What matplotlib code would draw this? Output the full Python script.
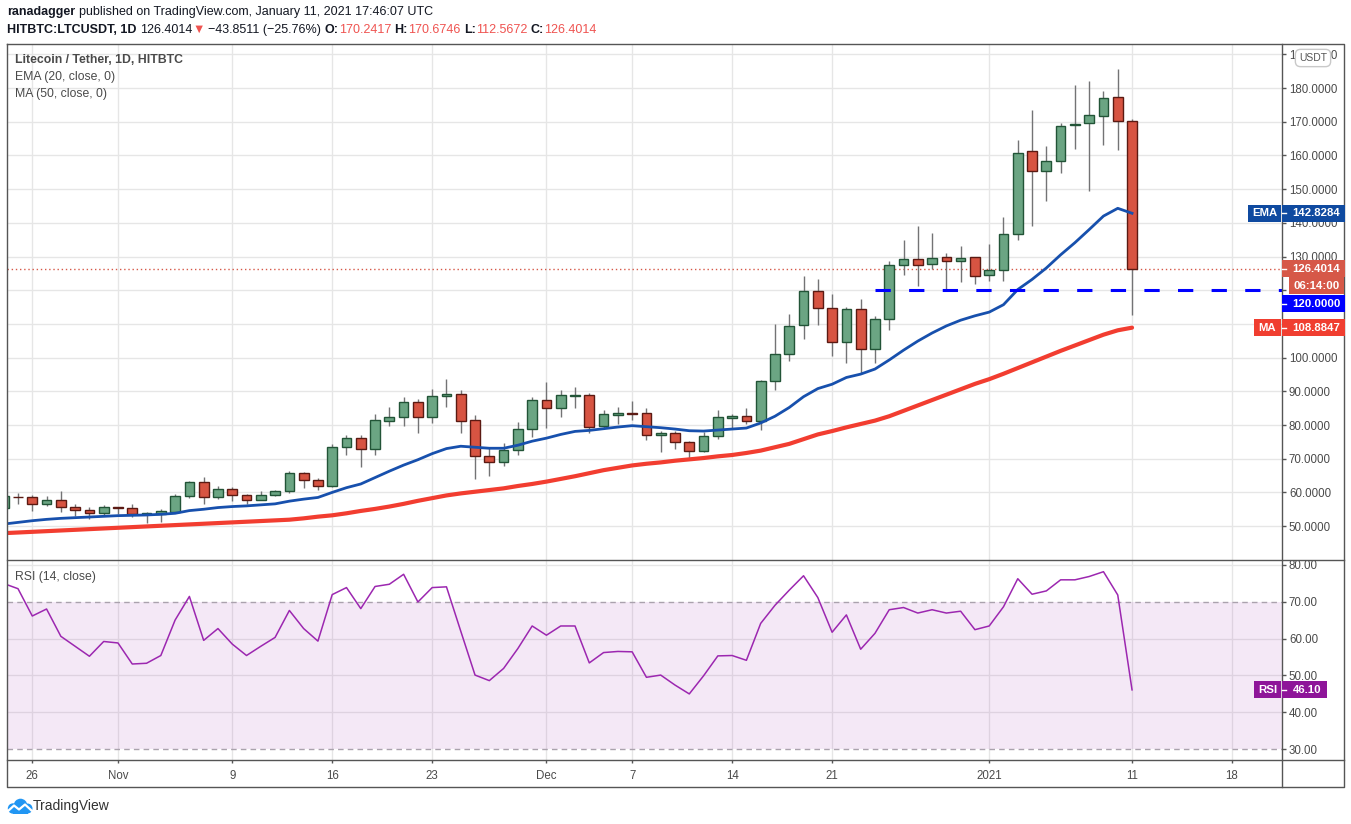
import numpy as np
import pandas as pd
import matplotlib
matplotlib.use("Agg")
import matplotlib.pyplot as plt
from matplotlib.lines import Line2D
from matplotlib.patches import Rectangle, Circle

plt.rcParams['font.family'] = ['Liberation Sans', 'DejaVu Sans']

# daily LTC/USDT candles, 2020-10-24 .. 2021-01-11
start_date = '2020-10-24'
end_date = '2021-01-11'

opens = [55.3, 58.7, 58.5, 56.5, 57.6, 55.6, 54.7, 53.8,
         55.7, 55.3, 53.5, 53.7, 54.3, 58.8, 63.0, 58.5, 60.9, 59.1, 57.6, 59.1, 60.3, 65.7, 63.6,
         62.0, 73.6, 76.1, 73.0, 81.3, 82.3, 86.7, 82.5, 88.5, 89.1, 81.4, 70.7, 68.9, 72.5, 78.7,
         87.3, 85.0, 88.6, 89.0, 79.6, 83.1, 83.6, 83.5, 77.0, 77.6, 74.9, 72.2, 76.7, 82.2, 82.6,
         81.3, 93.0, 101.0, 109.6, 119.7, 114.7, 104.6, 114.4, 102.5, 111.4, 127.5, 129.3, 127.8,
         129.9, 128.7, 129.9,
         124.5, 126.0, 136.7, 161.4, 155.4, 158.4, 168.9, 169.7, 171.8, 177.4, 170.2417]
highs = [59.5, 59.7, 59.1, 58.9, 60.4, 56.6, 55.7, 56.2,
         55.8, 56.6, 54.2, 55.1, 59.5, 63.4, 64.6, 61.9, 61.6, 59.5, 60.4, 60.7, 66.4, 66.1, 64.3,
         74.4, 77.0, 77.0, 83.3, 85.3, 88.4, 87.7, 90.7, 93.6, 90.4, 83.0, 73.3, 74.6, 80.9, 88.3,
         92.8, 90.4, 91.3, 89.5, 84.5, 85.4, 87.2, 85.1, 78.3, 78.1, 75.2, 78.0, 84.5, 83.2, 85.0,
         93.4, 110.0, 113.0, 124.3, 123.3, 118.9, 115.0, 117.4, 112.4, 128.8, 135.0, 139.2, 137.1,
         130.9, 133.0, 130.0,
         133.8, 141.6, 164.7, 173.4, 162.7, 169.5, 180.8, 182.0, 179.0, 185.5, 170.6746]
lows = [55.0, 56.5, 54.6, 56.1, 54.3, 53.1, 52.0, 53.2,
        53.5, 52.8, 51.0, 51.3, 54.2, 58.4, 56.7, 58.1, 57.3, 56.7, 57.6, 58.8, 59.9, 61.4, 60.7,
        61.7, 71.1, 67.6, 71.1, 79.8, 79.8, 77.7, 80.7, 85.4, 77.7, 64.1, 65.0, 67.8, 71.2, 76.3,
        79.2, 82.3, 85.1, 77.5, 78.7, 80.3, 81.5, 75.6, 72.1, 72.9, 69.7, 72.0, 75.7, 79.2, 80.4,
        78.4, 90.4, 99.1, 105.4, 109.8, 100.6, 98.5, 95.3, 98.5, 108.3, 124.6, 121.2, 126.2,
        120.2, 122.4, 121.9,
        122.8, 122.7, 135.0, 139.0, 146.4, 154.7, 161.9, 149.4, 163.1, 161.6, 112.5672]
closes = [58.9, 58.5, 56.5, 57.6, 55.6, 54.7, 53.8, 55.6,
          55.3, 53.5, 53.8, 54.4, 58.8, 63.0, 58.5, 60.9, 59.1, 57.6, 59.1, 60.3, 65.7, 63.6, 62.0,
          73.4, 76.1, 73.0, 81.4, 82.3, 86.7, 82.5, 88.5, 89.1, 81.3, 70.7, 68.9, 72.5, 78.7, 87.3,
          85.0, 88.8, 89.0, 79.4, 83.2, 83.6, 83.3, 77.0, 77.6, 74.9, 72.2, 76.7, 82.3, 82.7, 81.3,
          93.0, 101.0, 109.3, 119.7, 114.7, 104.6, 114.4, 102.5, 111.4, 127.6, 129.3, 127.5, 129.6,
          128.7, 129.6, 124.2,
          126.0, 136.7, 160.8, 155.4, 158.4, 168.8, 169.2, 172.1, 177.1, 170.3, 126.4014]

ema20 = [50.6, 51.1, 51.6, 52.0, 52.3, 52.5, 52.7, 52.9,
         53.1, 53.2, 53.3, 53.5, 53.8, 54.6, 55.0, 55.5, 55.8, 56.0, 56.3, 56.6, 57.4, 58.0, 58.5,
         60.0, 61.4, 62.5, 64.4, 66.3, 68.1, 69.7, 71.5, 73.0, 73.7, 73.4, 73.1, 73.1, 74.0, 75.2,
         76.1, 77.2, 78.1, 78.4, 78.9, 79.4, 79.8, 79.5, 79.2, 78.8, 78.3, 78.2, 78.5, 78.8, 79.1,
         80.6, 82.6, 85.2, 88.4, 90.8, 92.1, 94.1, 95.1, 96.6, 99.3, 102.2, 104.9, 107.3, 109.4,
         111.1, 112.4,
         113.5, 115.7, 120.2, 123.2, 126.6, 130.5, 134.1, 138.0, 142.0, 144.3, 142.8284]
ma50 = [47.9, 48.1, 48.3, 48.5, 48.7, 48.9, 49.1, 49.3,
        49.5, 49.7, 49.9, 50.1, 50.3, 50.5, 50.7, 50.9, 51.1, 51.3, 51.5, 51.7, 51.9, 52.3, 52.8,
        53.2, 53.8, 54.5, 55.1, 55.8, 56.6, 57.5, 58.3, 59.1, 59.7, 60.2, 60.7, 61.2, 61.9, 62.5,
        63.2, 64.0, 64.8, 65.7, 66.6, 67.3, 68.0, 68.5, 68.9, 69.4, 69.8, 70.2, 70.7, 71.1, 71.7,
        72.4, 73.4, 74.4, 75.8, 77.2, 78.2, 79.3, 80.3, 81.3, 82.6, 84.2, 85.8, 87.4, 89.0,
        90.6, 92.2,
        93.6, 95.2, 96.9, 98.6, 100.3, 102.0, 103.6, 105.2, 106.8, 108.1, 108.8847]
rsi14 = [74.9, 73.5, 66.1, 68.0, 60.6, 57.9, 55.2, 59.2,
         58.8, 53.1, 53.3, 55.4, 65.0, 71.4, 59.5, 62.7, 58.5, 55.4, 57.9, 60.3, 67.6, 62.7, 59.3,
         71.9, 73.8, 68.1, 74.1, 74.7, 77.4, 69.9, 73.8, 74.0, 62.0, 50.1, 48.6, 51.9, 57.3, 63.4,
         60.9, 63.4, 63.4, 53.4, 56.2, 56.5, 56.4, 49.5, 50.1, 47.4, 45.0, 49.9, 55.3, 55.4, 54.1,
         64.1, 69.0, 73.1, 77.0, 71.1, 61.7, 66.4, 57.1, 61.4, 67.8, 68.4, 66.9, 67.8, 66.9,
         67.4, 62.4,
         63.4, 68.6, 76.2, 72.0, 72.9, 75.9, 75.9, 76.8, 78.1, 71.8, 46.10]

support_level = 120.0
support_from = '2020-12-24'

tick_dates = ['2020-10-26', '2020-11-01', '2020-11-09', '2020-11-16', '2020-11-23', '2020-12-01',
              '2020-12-07', '2020-12-14', '2020-12-21', '2021-01-01', '2021-01-11', '2021-01-18']
tick_labels = ['26', 'Nov', '9', '16', '23', 'Dec', '7', '14', '21', '2021', '11', '18']
price_ticks = list(range(50, 200, 10))
rsi_ticks = [30, 40, 50, 60, 70, 80]

# colours
UP_FILL, UP_EDGE = '#6ba583', '#225437'
DN_FILL, DN_EDGE = '#d75442', '#5b1a13'
WICK = '#737375'
EMA_C, MA_C, RSI_C = '#1750ad', '#f23d30', '#9c27b0'
GRID = '#e6e6e6'
FRAME = '#555555'
TXT = '#4a4a4a'

W, H = 1351, 824
L, R, RR = 7, 1282, 1344
TOP, MID, BOT, AXB = 44, 560, 760, 787

fig = plt.figure(figsize=(W / 100, H / 100), dpi=100)
fig.patch.set_facecolor('white')

ax = fig.add_axes([L / W, 1 - MID / H, (R - L) / W, (MID - TOP) / H])
ax_rsi = fig.add_axes([L / W, 1 - BOT / H, (R - L) / W, (BOT - MID) / H])

dates = pd.date_range(start_date, end_date, freq='D')
x = np.arange(len(dates))
o, h, l, c = map(np.array, (opens, highs, lows, closes))
up = c >= o

tick_pos = (pd.to_datetime(tick_dates) - pd.Timestamp(start_date)).days
sup_pos = (pd.Timestamp(support_from) - pd.Timestamp(start_date)).days

for a in (ax, ax_rsi):
    a.set_xlim(0.23, 89.5)
    for s in a.spines.values():
        s.set_visible(False)
    a.set_xticks(tick_pos)
    a.set_axisbelow(True)

ax.set_ylim(39.94, 193.06)
ax_rsi.set_ylim(27.1, 81.27)


def py(a, val):
    # pixel row (from top) of a data value
    return H - a.transData.transform((0, val))[1]


# positions of the value tags on the price scale
y_ema = py(ax, ema20[-1])
y_close = py(ax, c[-1])
y_timer = y_close + 17
y_sup = max(py(ax, support_level), y_close + 35)
y_ma = py(ax, ma50[-1])
y_rsi = py(ax_rsi, rsi14[-1])
tag_rows = [y_ema, y_close, y_timer, y_sup, y_ma]

# --- price pane
ax.grid(True, color=GRID, lw=1)
ax.vlines(x, l, h, color=WICK, lw=1, zorder=2)
ax.bar(x[up], (c - o)[up], bottom=o[up], width=0.68, color=UP_FILL,
       edgecolor=UP_EDGE, linewidth=1, zorder=3)
ax.bar(x[~up], (c - o)[~up], bottom=o[~up], width=0.68, color=DN_FILL,
       edgecolor=DN_EDGE, linewidth=1, zorder=3)
ax.plot(x, ema20, color=EMA_C, lw=2, zorder=4)
ax.plot(x, ma50, color=MA_C, lw=3, zorder=4, solid_capstyle='round')
ax.axhline(c[-1], color='#d65848', lw=1, ls=(0, (1, 2)), zorder=1.5)
ax.plot([sup_pos, ax.get_xlim()[1]], [support_level, support_level], color='#0000ff',
        lw=2.2, ls=(0, (5, 6)), zorder=5, clip_on=False)

# price labels hidden under the tags are left out, as on the scale
ax.yaxis.tick_right()
ax.set_yticks(price_ticks)
ax.set_yticklabels(['' if any(abs(py(ax, v) - t) < 9 for t in tag_rows) else f'{v:.4f}'
                    for v in price_ticks])
ax.tick_params(axis='y', direction='out', length=3, width=1, color=FRAME,
               labelsize=8.3, labelcolor=TXT, pad=2)
ax.tick_params(axis='x', length=0, labelbottom=False)

# --- RSI pane
ax_rsi.grid(True, axis='x', color=GRID, lw=1)
ax_rsi.hlines([40, 50, 60, 80], 0, 1, transform=ax_rsi.get_yaxis_transform(), color=GRID, lw=1, zorder=0.6)
ax_rsi.axhspan(30, 70, color=RSI_C, alpha=0.1, lw=0, zorder=1)
for lvl in (30, 70):
    ax_rsi.axhline(lvl, color='#aaa2ad', lw=1, ls=(0, (4, 3)), zorder=1.2)
ax_rsi.plot(x, rsi14, color=RSI_C, lw=1.1, zorder=3)

ax_rsi.yaxis.tick_right()
ax_rsi.set_yticks(rsi_ticks)
ax_rsi.set_yticklabels([f'{v:.2f}' for v in rsi_ticks])
ax_rsi.tick_params(axis='y', direction='out', length=3, width=1, color=FRAME,
                   labelsize=8.3, labelcolor=TXT, pad=2)
ax_rsi.set_xticklabels(tick_labels)
ax_rsi.tick_params(axis='x', direction='out', length=2.5, width=1, color=FRAME,
                   labelsize=8.3, labelcolor=TXT, pad=4.5)


# --- frame
def fline(xs, ys, color=FRAME, zorder=2):
    fig.add_artist(Line2D([v / W for v in xs], [1 - v / H for v in ys],
                          transform=fig.transFigure, color=color, lw=1, zorder=zorder))


fline([L, RR, RR, L, L], [TOP, TOP, AXB, AXB, TOP])
fline([R, R], [TOP, AXB])
fline([L, RR], [MID, MID])
fline([L, RR], [BOT, BOT])

# --- header
renderer = fig.canvas.get_renderer()


def put_runs(x0, y0, runs, size):
    pa = fig.text(0, 0, 'x x', fontsize=size)
    pb = fig.text(0, 0, 'xx', fontsize=size)
    space = pa.get_window_extent(renderer).width - pb.get_window_extent(renderer).width
    pa.remove()
    pb.remove()
    xp = x0
    for s, col, wt, gap in runs:
        t = fig.text(xp / W, 1 - y0 / H, s, fontsize=size, color=col, fontweight=wt,
                     ha='left', va='center')
        xp += t.get_window_extent(renderer).width + (space if gap else 0)


DARK, RED = '#131722', '#ef5350'
put_runs(7, 12, [('ranadagger', DARK, 'bold', True),
                 ('published on TradingView.com, January 11, 2021 17:46:07 UTC', DARK, 'normal', False)], 9)
put_runs(7, 30, [('HITBTC:LTCUSDT, 1D', DARK, 'bold', True),
                 ('126.4014', DARK, 'normal', False),
                 ('▼', RED, 'normal', True),
                 ('−43.8511 (−25.76%)', DARK, 'normal', True),
                 ('O:', DARK, 'bold', False), ('170.2417', RED, 'normal', True),
                 ('H:', DARK, 'bold', False), ('170.6746', RED, 'normal', True),
                 ('L:', DARK, 'bold', False), ('112.5672', RED, 'normal', True),
                 ('C:', DARK, 'bold', False), ('126.4014', RED, 'normal', False)], 9)

# pane legends
fig.text(15 / W, 1 - 60 / H, 'Litecoin / Tether, 1D, HITBTC', fontsize=8.8,
         fontweight='bold', color=TXT, va='center')
fig.text(15 / W, 1 - 77 / H, 'EMA (20, close, 0)', fontsize=8.8, color=TXT, va='center')
fig.text(15 / W, 1 - 94 / H, 'MA (50, close, 0)', fontsize=8.8, color=TXT, va='center')
fig.text(15 / W, 1 - 577 / H, 'RSI (14, close)', fontsize=8.8, color=TXT, va='center')

fig.text(1313 / W, 1 - 58 / H, 'USDT', fontsize=7.5, color='#555', ha='center', va='center',
         zorder=10, bbox=dict(boxstyle='round,pad=0.35,rounding_size=0.5', fc='white', ec='#c9c9c9', lw=1))


# --- value tags on the scales
def box(x0, x1, yc, label, color, size=8.2, hgt=17, tick=False):
    fig.add_artist(Rectangle((x0 / W, 1 - (yc + hgt / 2) / H), (x1 - x0) / W, hgt / H,
                             transform=fig.transFigure, fc=color, ec='none', zorder=8))
    cx = (x0 + x1) / 2 + (3 if tick else 0)
    fig.text(cx / W, 1 - yc / H, label, color='white', fontsize=size, fontweight='bold',
             ha='center', va='center', zorder=9)
    if tick:
        fline([x0, x0 + 4], [yc, yc], color='white', zorder=9)


box(1248, 1281, y_ema, 'EMA', '#0f4aa0')
box(1282, 1345, y_ema, f'{ema20[-1]:.4f}', '#0f4aa0', tick=True)

box(1282, 1345, y_close, f'{c[-1]:.4f}', '#d65848', tick=True)
box(1289, 1344, y_timer, '06:14:00', '#d65848')

box(1282, 1345, y_sup, f'{support_level:.4f}', '#0000ff', tick=True)

box(1254, 1281, y_ma, 'MA', '#f03e30')
box(1282, 1345, y_ma, f'{ma50[-1]:.4f}', '#f03e30', tick=True)

box(1254, 1281, y_rsi, 'RSI', '#8e1599')
box(1282, 1327, y_rsi, f'{rsi14[-1]:.2f}', '#8e1599', tick=True)

# --- TradingView logo
lax = fig.add_axes([6 / W, 1 - 815 / H, 27 / W, 18 / H])
lax.set_xlim(0, 27)
lax.set_ylim(0, 18)
lax.axis('off')
for cx, cy, r in [(7, 6.5, 5.2), (14.5, 9.5, 6.8), (21.5, 6.5, 5.0)]:
    lax.add_patch(Circle((cx, cy), r, color='#2196f3', lw=0))
lax.add_patch(Rectangle((6.5, 1.5), 15, 6, color='#2196f3', lw=0))
lax.plot([1.5, 8, 13, 19, 25.5], [3.5, 9.5, 5.5, 10.5, 4.5], color='white', lw=1.6)
fig.text(33 / W, 1 - 806 / H, 'TradingView', fontsize=10, color='#333333', va='center')

fig.savefig('out.png', dpi=100)
